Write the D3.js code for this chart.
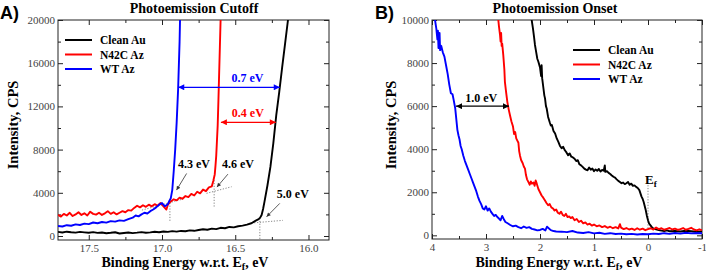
<!DOCTYPE html>
<html>
<head>
<meta charset="utf-8">
<script src="https://cdn.jsdelivr.net/npm/d3@7"></script>
<style>
  body { margin: 0; background: #fff; }
  svg { display: block; }
  text { font-family: "Liberation Serif", "Times New Roman", serif; }
  .tick line { stroke: #222; }
  .tick text { fill: #444; font-size: 11px; }
  .domain { display: none; }
</style>
</head>
<body>
<svg id="chart" width="706" height="274"></svg>
<script>
// ---- Panel A: photoemission cutoff, [binding energy eV, counts/s] ----
const cutoffAu = [
  [17.71, 380], [17.68, 330], [17.65, 400], [17.62, 350], [17.59, 310], [17.56, 380],
  [17.53, 340], [17.50, 300], [17.47, 360], [17.44, 290], [17.41, 330], [17.38, 260],
  [17.35, 300], [17.32, 350], [17.29, 230], [17.26, 280], [17.23, 330], [17.20, 270],
  [17.17, 310], [17.14, 360], [17.11, 300], [17.08, 340], [17.05, 390], [17.02, 350],
  [16.99, 420], [16.96, 380], [16.93, 450], [16.90, 410], [16.87, 470], [16.84, 440],
  [16.81, 520], [16.78, 480], [16.75, 560], [16.72, 620], [16.69, 580], [16.66, 680],
  [16.63, 640], [16.60, 760], [16.57, 720], [16.54, 840], [16.51, 800], [16.48, 900],
  [16.45, 960], [16.42, 1050], [16.39, 1180], [16.36, 1420], [16.34, 1560], [16.33, 1700],
  [16.32, 1950], [16.31, 2500], [16.30, 3200], [16.28, 4700], [16.26, 6400], [16.24, 8600],
  [16.22, 11200], [16.20, 13300], [16.18, 15600], [16.16, 17800], [16.14, 20000], [16.12, 22000]
];
const cutoffN42C = [
  [17.71, 1950], [17.69, 1800], [17.67, 2050], [17.65, 1900], [17.63, 2150], [17.61, 1850],
  [17.59, 2000], [17.57, 2200], [17.55, 1950], [17.53, 2100], [17.51, 1900], [17.49, 2250],
  [17.47, 2050], [17.45, 1980], [17.43, 2150], [17.41, 1950], [17.39, 2100], [17.37, 2300],
  [17.35, 2050], [17.33, 2200], [17.31, 2000], [17.29, 2150], [17.27, 2300], [17.25, 2200],
  [17.23, 2400], [17.21, 2350], [17.19, 2600], [17.17, 2800], [17.15, 2650], [17.13, 2850],
  [17.11, 2700], [17.09, 2900], [17.07, 2750], [17.05, 2950], [17.03, 2800], [17.01, 3050],
  [16.99, 2750], [16.97, 2450], [16.96, 2900], [16.94, 3200], [16.92, 3400], [16.90, 3300],
  [16.88, 3550], [16.86, 3450], [16.84, 3700], [16.82, 3600], [16.80, 3900], [16.78, 3750],
  [16.76, 4100], [16.74, 3950], [16.72, 4300], [16.70, 4150], [16.68, 4500], [16.66, 4600],
  [16.65, 5100], [16.64, 5700], [16.635, 6500], [16.63, 7400], [16.625, 8800], [16.62, 10200],
  [16.615, 12500], [16.61, 15000], [16.605, 17500], [16.60, 20000], [16.595, 22000]
];
const cutoffWT = [
  [17.71, 920], [17.68, 880], [17.65, 1000], [17.62, 950], [17.59, 1080], [17.56, 1020],
  [17.53, 1150], [17.50, 1100], [17.47, 1250], [17.44, 1180], [17.41, 1300], [17.38, 1240],
  [17.35, 1380], [17.32, 1330], [17.29, 1450], [17.26, 1400], [17.23, 1560], [17.20, 1700],
  [17.18, 1900], [17.16, 1820], [17.14, 2000], [17.12, 2150], [17.10, 2080], [17.08, 2300],
  [17.06, 2450], [17.04, 2650], [17.02, 2900], [17.00, 3050], [16.98, 2750], [16.96, 2950],
  [16.95, 3250], [16.94, 3500], [16.93, 4250], [16.92, 6000], [16.91, 8000], [16.90, 10500],
  [16.89, 13600], [16.88, 18000], [16.877, 20000], [16.873, 22000]
];

// ---- Panel B: photoemission onset ----
const onsetAu = [
  [2.17, 10300], [2.154, 10000], [2.13, 9600], [2.11, 9200], [2.093, 8840], [2.07, 8500],
  [2.05, 8200], [2.03, 8060], [2.00, 7800], [1.98, 7400], [1.97, 7900], [1.96, 7300],
  [1.94, 6900], [1.92, 6500], [1.907, 6360], [1.89, 6000], [1.876, 5890], [1.85, 5500],
  [1.82, 5250], [1.80, 5100], [1.78, 5120], [1.75, 4850], [1.72, 4730], [1.69, 4500],
  [1.66, 4340], [1.63, 4150], [1.60, 4050], [1.57, 4110], [1.54, 3950], [1.51, 3850],
  [1.48, 3720], [1.45, 3800], [1.42, 3650], [1.39, 3620], [1.36, 3560], [1.33, 3450],
  [1.30, 3490], [1.27, 3300], [1.24, 3250], [1.21, 3180], [1.18, 3100], [1.15, 3050],
  [1.12, 3020], [1.09, 3150], [1.06, 3050], [1.03, 3100], [1.00, 2980], [0.97, 3060],
  [0.94, 3000], [0.91, 3080], [0.88, 2960], [0.85, 3040], [0.82, 3000], [0.80, 3250],
  [0.79, 2950], [0.76, 2980], [0.73, 2900], [0.70, 2850], [0.67, 2780], [0.64, 2720],
  [0.61, 2680], [0.58, 2600], [0.55, 2530], [0.52, 2480], [0.49, 2420], [0.46, 2450],
  [0.43, 2380], [0.40, 2420], [0.37, 2480], [0.34, 2350], [0.31, 2400], [0.28, 2300],
  [0.25, 2320], [0.22, 2250], [0.19, 2200], [0.16, 2100], [0.14, 1950], [0.12, 1800],
  [0.10, 1700], [0.08, 1550], [0.06, 1350], [0.04, 1150], [0.02, 900], [0.00, 700],
  [-0.02, 550], [-0.05, 450], [-0.08, 350], [-0.11, 300], [-0.15, 280], [-0.20, 250],
  [-0.25, 220], [-0.30, 200], [-0.35, 230], [-0.40, 190], [-0.50, 200], [-0.60, 180],
  [-0.70, 210], [-0.80, 190], [-0.90, 170], [-1.00, 180]
];
const onsetN42C = [
  [2.79, 10300], [2.772, 10000], [2.76, 9700], [2.74, 9300], [2.73, 9000], [2.72, 9400],
  [2.71, 8800], [2.70, 8900], [2.68, 8370], [2.66, 7700], [2.65, 7130], [2.63, 6700],
  [2.605, 6200], [2.58, 5850], [2.556, 5580], [2.53, 5300], [2.50, 5050], [2.48, 4700],
  [2.46, 4800], [2.44, 4500], [2.42, 4400], [2.40, 4300], [2.385, 3900], [2.37, 3700],
  [2.35, 3500], [2.32, 3350], [2.30, 3200], [2.278, 3100], [2.26, 2800], [2.24, 2600],
  [2.216, 2480], [2.19, 2350], [2.17, 2500], [2.15, 2400], [2.12, 2450], [2.10, 2300],
  [2.08, 2550], [2.06, 2400], [2.03, 2150], [2.00, 2000], [1.97, 1850], [1.94, 1750],
  [1.91, 1630], [1.88, 1500], [1.85, 1400], [1.82, 1450], [1.79, 1300], [1.76, 1250],
  [1.73, 1150], [1.70, 1200], [1.67, 1050], [1.64, 1000], [1.61, 1100], [1.58, 950],
  [1.55, 900], [1.52, 1000], [1.49, 850], [1.46, 880], [1.43, 800], [1.40, 850],
  [1.36, 700], [1.32, 760], [1.28, 620], [1.24, 680], [1.20, 560], [1.16, 600],
  [1.12, 500], [1.08, 540], [1.04, 450], [1.00, 500], [0.95, 420], [0.90, 460],
  [0.85, 380], [0.80, 430], [0.75, 350], [0.70, 400], [0.65, 330], [0.60, 380],
  [0.55, 320], [0.52, 520], [0.50, 360], [0.45, 290], [0.40, 340], [0.35, 270],
  [0.30, 310], [0.25, 250], [0.20, 330], [0.15, 260], [0.10, 310], [0.05, 240],
  [0.00, 290], [-0.05, 330], [-0.10, 270], [-0.15, 360], [-0.20, 290], [-0.25, 330],
  [-0.30, 260], [-0.35, 300], [-0.40, 340], [-0.45, 270], [-0.50, 310], [-0.55, 250],
  [-0.60, 290], [-0.65, 340], [-0.70, 260], [-0.75, 300], [-0.80, 350], [-0.85, 270],
  [-0.90, 230], [-0.95, 280], [-1.00, 240]
];
const onsetWT = [
  [3.96, 10400], [3.944, 10000], [3.92, 9600], [3.90, 9100], [3.89, 9500], [3.88, 8700],
  [3.86, 9400], [3.85, 8600], [3.83, 8800], [3.80, 8500], [3.77, 8300], [3.74, 7900],
  [3.71, 7500], [3.68, 7000], [3.65, 6600], [3.62, 6550], [3.60, 6300], [3.57, 5900],
  [3.55, 5400], [3.53, 4900], [3.51, 4650], [3.49, 4450], [3.47, 4150], [3.45, 4000],
  [3.42, 3700], [3.39, 3450], [3.36, 3250], [3.33, 3050], [3.30, 2850], [3.27, 2650],
  [3.24, 2450], [3.21, 2250], [3.18, 2050], [3.15, 1800], [3.12, 1600], [3.09, 1450],
  [3.06, 1250], [3.03, 1200], [3.00, 1350], [2.97, 1150], [2.94, 1250], [2.91, 1100],
  [2.88, 1000], [2.85, 900], [2.82, 950], [2.79, 850], [2.76, 780], [2.73, 700],
  [2.70, 900], [2.67, 750], [2.64, 620], [2.60, 560], [2.55, 480], [2.50, 420],
  [2.45, 450], [2.40, 380], [2.35, 330], [2.30, 410], [2.25, 350], [2.20, 380],
  [2.15, 300], [2.10, 270], [2.05, 230], [2.00, 250], [1.95, 300], [1.90, 230],
  [1.87, 400], [1.80, 240], [1.75, 200], [1.70, 180], [1.60, 170], [1.50, 150],
  [1.40, 200], [1.30, 130], [1.20, 110], [1.10, 150], [1.00, 90], [0.90, 120],
  [0.80, 70], [0.70, 100], [0.60, 60], [0.50, 80], [0.40, 50], [0.30, 70],
  [0.20, 40], [0.10, 60], [0.00, 50], [-0.10, 80], [-0.20, 60], [-0.30, 100],
  [-0.40, 70], [-0.50, 110], [-0.60, 80], [-0.70, 120], [-0.80, 90], [-0.90, 110],
  [-1.00, 100]
];

const seriesNames = ["Clean Au", "N42C Az", "WT Az"];
const seriesColors = ["#000000", "#ff0000", "#0000ff"];

const cutoffXTicks = [17.5, 17.0, 16.5, 16.0];
const cutoffXMinor = [17.25, 16.75, 16.25];
const cutoffYTicks = [0, 4000, 8000, 12000, 16000, 20000];
const cutoffYMinor = [2000, 6000, 10000, 14000, 18000];
const onsetXTicks = [4, 3, 2, 1, 0, -1];
const onsetXMinor = [3.5, 2.5, 1.5, 0.5, -0.5];
const onsetYTicks = [0, 2000, 4000, 6000, 8000, 10000];
const onsetYMinor = [1000, 3000, 5000, 7000, 9000];

const svg = d3.select("#chart");
const defs = svg.append("defs");

// arrowheads
function addMarker(id, color, w, h) {
  defs.append("marker")
    .attr("id", id)
    .attr("viewBox", "0 0 10 10")
    .attr("refX", 10).attr("refY", 5)
    .attr("markerUnits", "userSpaceOnUse")
    .attr("markerWidth", w).attr("markerHeight", h)
    .attr("orient", "auto-start-reverse")
    .append("path")
    .attr("d", "M0,0 L10,5 L0,10 z")
    .attr("fill", color);
}
addMarker("head-blue", "#0000ff", 8, 6);
addMarker("head-red", "#ff0000", 8, 6);
addMarker("head-black", "#000", 8, 6);
addMarker("head-small", "#333", 6, 4);

function drawPanel(p) {
  const x = d3.scaleLinear().domain(p.xDomain).range([p.left, p.right]);
  const y = d3.scaleLinear().domain(p.yDomain).range([p.bottom, p.top]);
  const g = svg.append("g");

  defs.append("clipPath").attr("id", "clip-" + p.id)
    .append("rect")
    .attr("x", p.left).attr("y", p.top)
    .attr("width", p.right - p.left).attr("height", p.bottom - p.top);

  // axes, ticks pointing inward on all four sides
  g.append("g").attr("transform", `translate(0,${p.bottom})`)
    .call(d3.axisBottom(x).tickValues(p.xTicks).tickSizeInner(-5).tickSizeOuter(0)
      .tickPadding(4).tickFormat(p.xFormat));
  g.append("g").attr("transform", `translate(0,${p.bottom})`)
    .call(d3.axisBottom(x).tickValues(p.xMinor).tickSize(-3).tickFormat(""));
  g.append("g").attr("transform", `translate(0,${p.top})`)
    .call(d3.axisTop(x).tickValues(p.xTicks).tickSize(-5).tickFormat(""));
  g.append("g").attr("transform", `translate(0,${p.top})`)
    .call(d3.axisTop(x).tickValues(p.xMinor).tickSize(-3).tickFormat(""));

  g.append("g").attr("transform", `translate(${p.left},0)`)
    .call(d3.axisLeft(y).tickValues(p.yTicks).tickSizeInner(-5).tickSizeOuter(0)
      .tickPadding(3).tickFormat(d => d));
  g.append("g").attr("transform", `translate(${p.left},0)`)
    .call(d3.axisLeft(y).tickValues(p.yMinor).tickSize(-3).tickFormat(""));
  g.append("g").attr("transform", `translate(${p.right},0)`)
    .call(d3.axisRight(y).tickValues(p.yTicks).tickSize(-5).tickFormat(""));
  g.append("g").attr("transform", `translate(${p.right},0)`)
    .call(d3.axisRight(y).tickValues(p.yMinor).tickSize(-3).tickFormat(""));

  g.selectAll(".tick text").style("font-family", "'Liberation Serif', serif");

  g.append("rect")
    .attr("x", p.left).attr("y", p.top)
    .attr("width", p.right - p.left).attr("height", p.bottom - p.top)
    .attr("fill", "none").attr("stroke", "#222").attr("stroke-width", 1);

  const line = d3.line().x(d => x(d[0])).y(d => y(d[1]));
  const plot = g.append("g").attr("clip-path", `url(#clip-${p.id})`);

  // dotted guide lines
  plot.selectAll(".guide")
    .data(p.guides)
    .enter()
    .append("path")
    .attr("d", line)
    .attr("fill", "none")
    .attr("stroke", "#666")
    .attr("stroke-width", 0.8)
    .attr("stroke-dasharray", "1.2,1.6");

  plot.selectAll(".curve")
    .data(p.series)
    .enter()
    .append("path")
    .attr("d", line)
    .attr("fill", "none")
    .attr("stroke", (d, i) => seriesColors[i])
    .attr("stroke-width", 1.9)
    .attr("stroke-linejoin", "round");

  // double-headed arrows with labels
  p.spans.forEach(s => {
    g.append("line")
      .attr("x1", x(s.from)).attr("x2", x(s.to))
      .attr("y1", y(s.at)).attr("y2", y(s.at))
      .attr("stroke", s.color).attr("stroke-width", 1.2)
      .attr("marker-start", `url(#${s.marker})`)
      .attr("marker-end", `url(#${s.marker})`);
    g.append("text")
      .attr("x", x(s.labelX)).attr("y", y(s.labelY))
      .attr("text-anchor", "middle")
      .attr("fill", s.color)
      .style("font-size", "12px").style("font-weight", "bold")
      .text(s.label);
  });

  // pointer arrows to the onset knees
  p.pointers.forEach(s => {
    g.append("line")
      .attr("x1", x(s.from[0])).attr("y1", y(s.from[1]))
      .attr("x2", x(s.to[0])).attr("y2", y(s.to[1]))
      .attr("stroke", "#333").attr("stroke-width", 0.8)
      .attr("marker-end", "url(#head-small)");
    g.append("text")
      .attr("x", x(s.labelX)).attr("y", y(s.labelY))
      .attr("text-anchor", "middle")
      .style("font-size", "12px").style("font-weight", "bold")
      .text(s.label);
  });

  // legend
  const legend = g.append("g").attr("transform", `translate(${p.legendX},${p.legendY})`);
  const items = legend.selectAll(".legend-item")
    .data(seriesNames)
    .enter()
    .append("g")
    .attr("transform", (d, i) => `translate(0,${i * 14.5})`);
  items.append("line")
    .attr("x1", 0).attr("x2", 27)
    .attr("stroke", (d, i) => seriesColors[i])
    .attr("stroke-width", 2);
  items.append("text")
    .attr("x", 35).attr("y", 4)
    .style("font-size", "11.5px").style("font-weight", "bold")
    .text(d => d);

  // titles
  svg.append("text")
    .attr("x", p.titleX).attr("y", 12.5)
    .attr("text-anchor", "middle")
    .style("font-size", "14px").style("font-weight", "bold")
    .text(p.title);
  svg.append("text")
    .attr("x", p.panelX).attr("y", 19)
    .style("font-family", "'Liberation Sans', Arial, sans-serif")
    .style("font-size", "18px").style("font-weight", "bold")
    .text(p.panel);

  svg.append("text")
    .attr("transform", `translate(${p.yLabelX},125) rotate(-90)`)
    .attr("text-anchor", "middle")
    .style("font-size", "14.5px").style("font-weight", "bold")
    .text("Intensity, CPS");

  const xl = svg.append("text")
    .attr("x", p.xLabelX).attr("y", 267)
    .attr("text-anchor", "middle")
    .style("font-size", "14px").style("font-weight", "bold");
  xl.append("tspan").text("Binding Energy w.r.t. E");
  xl.append("tspan").attr("dy", 3).style("font-size", "10px").text("f");
  xl.append("tspan").attr("dy", -3).text(", eV");

  return { x, y, g };
}

// ---- Panel A ----
drawPanel({
  id: "a", panel: "A)", panelX: 0, title: "Photoemission Cutoff", titleX: 194,
  left: 58, right: 329, top: 20, bottom: 240,
  xDomain: [17.71, 15.86], yDomain: [-370, 20000],
  xTicks: cutoffXTicks, xMinor: cutoffXMinor, yTicks: cutoffYTicks, yMinor: cutoffYMinor,
  xFormat: d3.format(".1f"),
  series: [cutoffAu, cutoffN42C, cutoffWT],
  guides: [
    [[16.946, 3330], [16.946, 1290]], [[17.137, 2400], [16.857, 3420]],
    [[16.644, 5170], [16.644, 2680]], [[16.696, 3950], [16.525, 4560]],
    [[16.332, 1660], [16.332, -370]], [[16.389, 1200], [16.175, 1450]]
  ],
  spans: [
    { from: 16.889, to: 16.196, at: 13770, label: "0.7 eV", labelX: 16.417, labelY: 14250,
      color: "#0000ff", marker: "head-blue" },
    { from: 16.598, to: 16.223, at: 10530, label: "0.4 eV", labelX: 16.414, labelY: 11050,
      color: "#ff0000", marker: "head-red" }
  ],
  pointers: [
    { from: [16.832, 5790], to: [16.901, 4250], label: "4.3 eV", labelX: 16.782, labelY: 6280 },
    { from: [16.550, 5730], to: [16.625, 4530], label: "4.6 eV", labelX: 16.482, labelY: 6280 },
    { from: [16.196, 3020], to: [16.286, 1780], label: "5.0 eV", labelX: 16.107, labelY: 3550 }
  ],
  legendX: 65, legendY: 40,
  yLabelX: 18, xLabelX: 185
});

// ---- Panel B ----
const b = drawPanel({
  id: "b", panel: "B)", panelX: 375, title: "Photoemission Onset", titleX: 555,
  left: 432, right: 702, top: 20, bottom: 239,
  xDomain: [4, -1], yDomain: [-170, 10000],
  xTicks: onsetXTicks, xMinor: onsetXMinor, yTicks: onsetYTicks, yMinor: onsetYMinor,
  xFormat: d => d,
  series: [onsetAu, onsetN42C, onsetWT],
  guides: [[[0, 2330], [0, 300]]],
  spans: [
    { from: 3.556, to: 2.574, at: 6000, label: "1.0 eV", labelX: 3.087, labelY: 6200,
      color: "#000", marker: "head-black" }
  ],
  pointers: [],
  legendX: 573, legendY: 50,
  yLabelX: 396, xLabelX: 559
});

const ef = b.g.append("text")
  .attr("x", b.x(0.055)).attr("y", b.y(2400))
  .style("font-size", "13px").style("font-weight", "bold");
ef.append("tspan").text("E");
ef.append("tspan").attr("dy", 3).style("font-size", "9px").text("f");
</script>
</body>
</html>
